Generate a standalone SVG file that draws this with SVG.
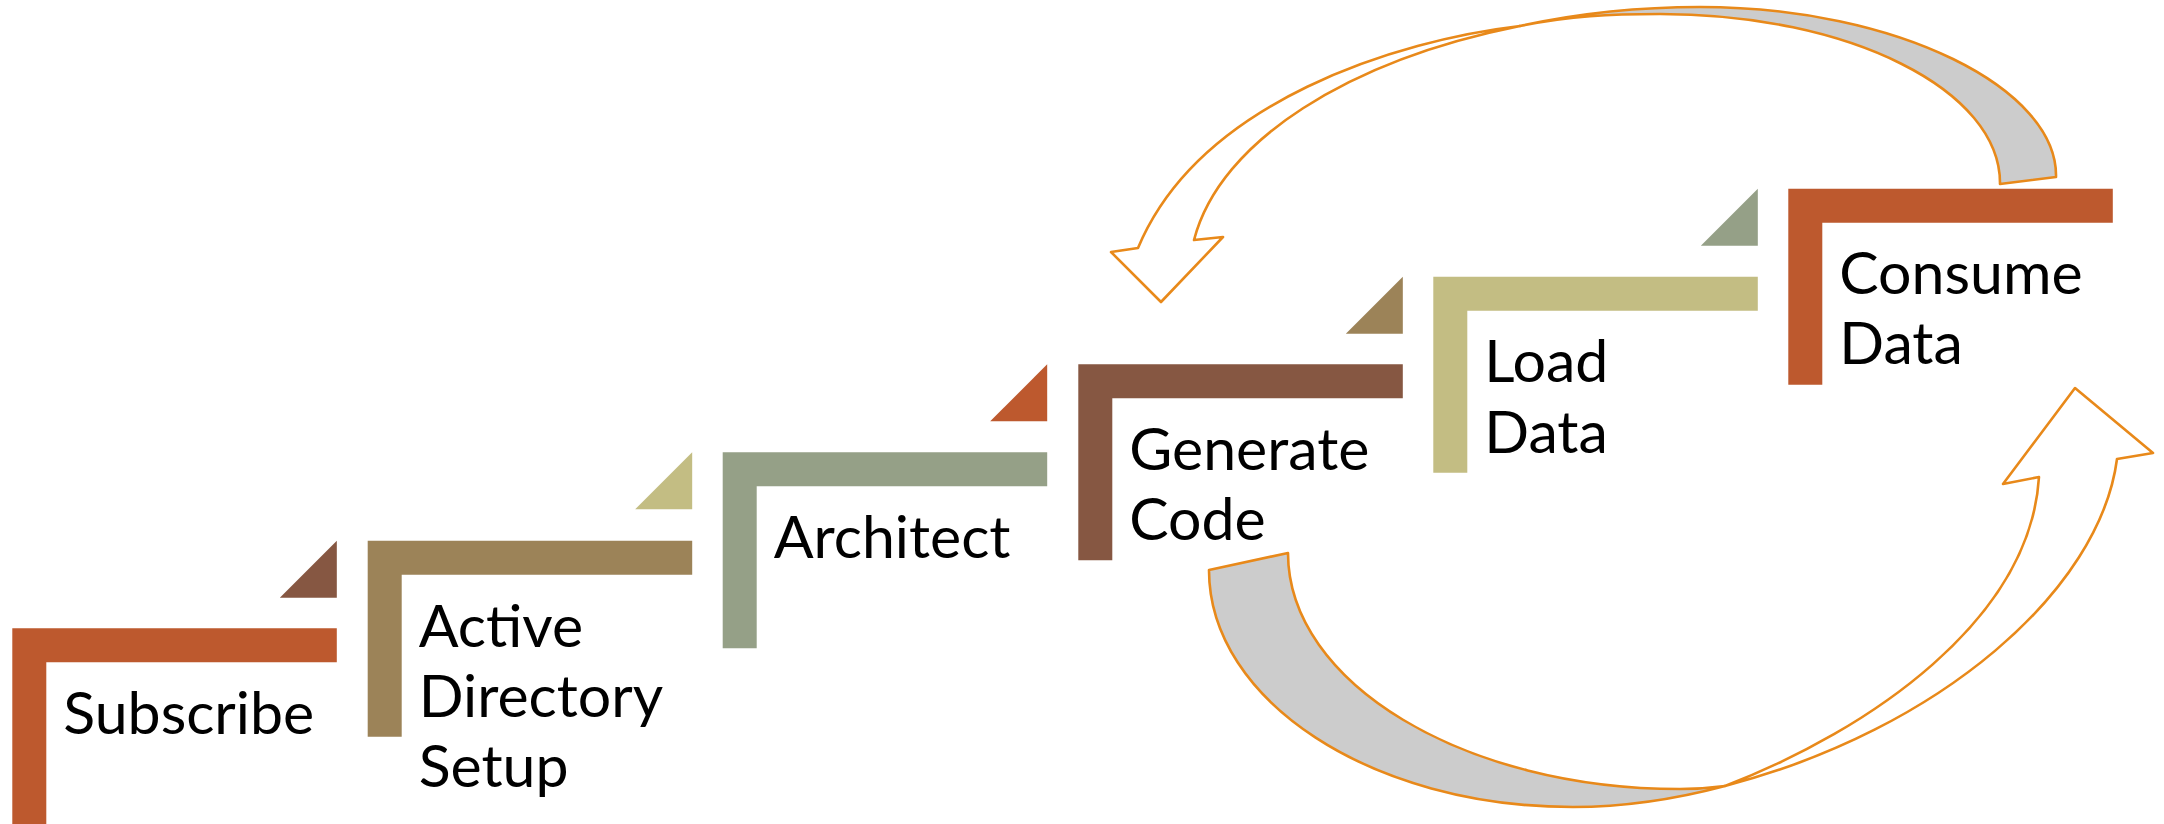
<svg xmlns="http://www.w3.org/2000/svg" width="2164" height="824" viewBox="0 0 2164 824">
<style>
  .lbl { font-family: Lato, "Open Sans", "Liberation Sans", sans-serif; font-size: 59px; fill: #000; }
  .c-or { fill: #BD592E; }
  .c-ad { fill: #9C8358; }
  .c-ar { fill: #95A087; }
  .c-gc { fill: #865742; }
  .c-ld { fill: #C3BD83; }
  .back { fill: #CCCCCC; stroke: #E8891A; stroke-width: 2.6; stroke-linejoin: round; }
  .front { fill: #FFFFFF; stroke: #E8891A; stroke-width: 2.6; stroke-linejoin: round; }
</style>
<defs>
  <path id="ell" d="M0,0 H324.5 V34 H34 V196 H0 Z"/>
  <path id="tri" d="M0,0 V57 H-57 Z"/>
</defs>
<rect width="2164" height="824" fill="#FFFFFF"/>

<g id="step-subscribe">
  <use href="#ell" class="c-or" x="12.3" y="628.3"/>
  <text class="lbl" x="63.3" y="734">Subscribe</text>
</g>

<g id="step-active-directory">
  <use href="#tri" class="c-gc" x="336.8" y="540.7"/>
  <use href="#ell" class="c-ad" x="367.7" y="540.7"/>
  <text class="lbl" x="418.7" y="646.5">Active</text>
  <text class="lbl" x="418.7" y="716.5">Directory</text>
  <text class="lbl" x="418.7" y="786.5">Setup</text>
</g>

<g id="step-architect">
  <use href="#tri" class="c-ld" x="692.2" y="452.3"/>
  <use href="#ell" class="c-ar" x="722.7" y="452.3"/>
  <text class="lbl" x="773.7" y="558.2">Architect</text>
</g>

<g id="step-generate-code">
  <use href="#tri" class="c-or" x="1047.2" y="364.2"/>
  <use href="#ell" class="c-gc" x="1078.3" y="364.2"/>
  <text class="lbl" x="1129.3" y="469.5">Generate</text>
  <text class="lbl" x="1129.3" y="540">Code</text>
</g>

<g id="step-load-data">
  <use href="#tri" class="c-ad" x="1402.8" y="276.7"/>
  <use href="#ell" class="c-ld" x="1433.3" y="276.7"/>
  <text class="lbl" x="1484.3" y="381.8">Load</text>
  <text class="lbl" x="1484.3" y="452.5">Data</text>
</g>

<g id="step-consume-data">
  <use href="#tri" class="c-ar" x="1757.8" y="188.7"/>
  <use href="#ell" class="c-or" x="1788.3" y="188.7"/>
  <text class="lbl" x="1839.3" y="294.3">Consume</text>
  <text class="lbl" x="1839.3" y="364.3">Data</text>
</g>

<g id="connectors">
  <g id="arrow-consume-to-generate">
    <path class="back" d="M2056,177 C2058,89 1898,7 1700,7 C1630,7 1570,15 1520,26 C1570,16 1610,14 1660,14 C1849,14 2001,90 2000,184 Z"/>
    <path class="front" d="M1520,26 C1400,40 1200,100 1138,248 L1111,252 L1161,302 L1223,237 L1194,240 C1220,140 1350,60 1520,26 Z"/>
  </g>
  <g id="arrow-generate-to-consume">
    <path class="back" d="M1209,570 L1288,553 C1288,683 1464,789 1680,789 C1695,789 1710,788 1725,786 C1680,798 1630,807 1573,807 C1372,807 1209,701 1209,570 Z"/>
    <path class="front" d="M1725,786 C1870,730 2030,620 2039,477 L2003,484 L2075,388 L2153,453 L2117,459 C2100,590 1940,730 1725,786 Z"/>
  </g>
</g>
</svg>
